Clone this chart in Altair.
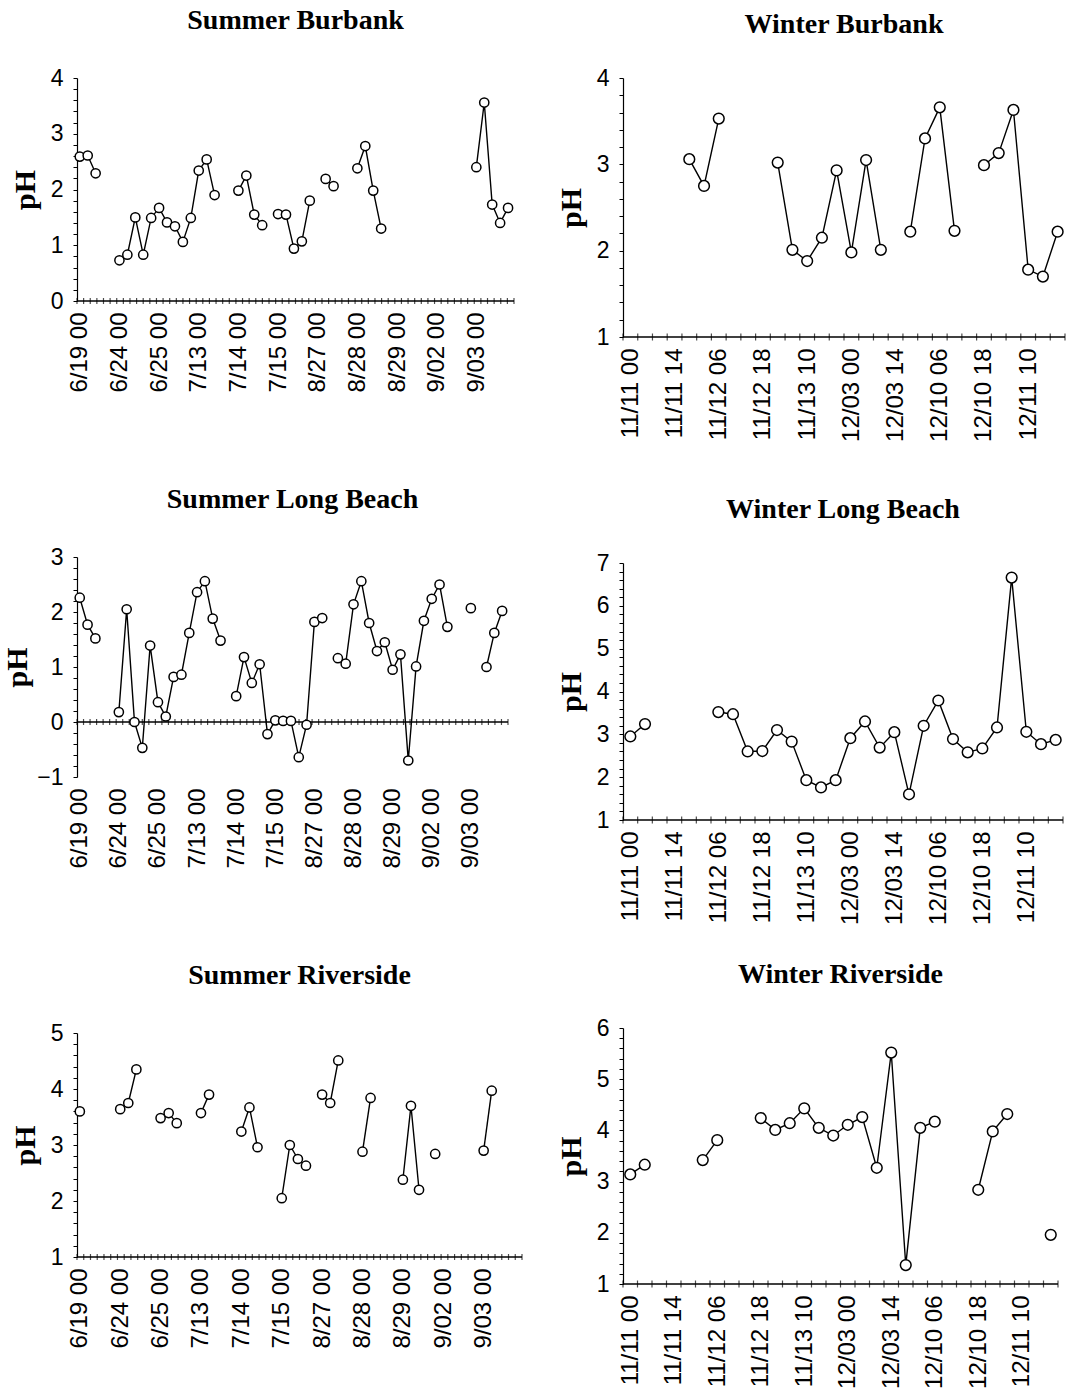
import json
import altair as alt
import pandas as pd
import numpy as np

# ---------------- data ----------------
summer_labels = ["6/19 00", "6/24 00", "6/25 00", "7/13 00", "7/14 00", "7/15 00",
                 "8/27 00", "8/28 00", "8/29 00", "9/02 00", "9/03 00"]
winter_labels = ["11/11 00", "11/11 14", "11/12 06", "11/12 18", "11/13 10",
                 "12/03 00", "12/03 14", "12/10 06", "12/10 18", "12/11 10"]

summer_burbank = [2.59, 2.61, 2.29, None, None,
                  0.73, 0.83, 1.50, 0.83, 1.49, 1.67, 1.41, 1.34, 1.06, 1.49, 2.34, 2.54, 1.90,
                  None, None,
                  1.98, 2.25, 1.55, 1.36, None,
                  1.56, 1.55, 0.94, 1.07, 1.80, None,
                  2.19, 2.06, None, None,
                  2.38, 2.78, 1.98, 1.30,
                  None, None, None, None, None, None, None, None, None, None, None,
                  2.40, 3.56, 1.73, 1.40, 1.67]

summer_longbeach = [2.26, 1.77, 1.52, None, None,
                    0.18, 2.05, 0.00, -0.47, 1.39, 0.36, 0.10, 0.82, 0.86, 1.62, 2.36, 2.56, 1.88, 1.48,
                    None,
                    0.47, 1.18, 0.71, 1.05, -0.22, 0.03, 0.02, 0.02, -0.64, -0.05, 1.82, 1.89,
                    None,
                    1.16, 1.06, 2.14, 2.56, 1.80, 1.29, 1.45, 0.95, 1.23, -0.70, 1.01, 1.84, 2.24, 2.50, 1.73,
                    None, None,
                    2.07, None,
                    1.00, 1.62, 2.02]

summer_riverside = [3.60, None, None, None, None,
                    3.64, 3.75, 4.35, None, None,
                    3.48, 3.57, 3.39, None, None,
                    3.57, 3.90, None, None, None,
                    3.24, 3.67, 2.96, None, None,
                    2.05, 3.00, 2.75, 2.63, None,
                    3.90, 3.75, 4.51, None, None,
                    2.88, 3.84, None, None, None,
                    2.38, 3.70, 2.20, None, 2.84,
                    None, None, None, None, None,
                    2.90, 3.97, None, None, None]

winter_burbank = [None, None, None, None,
                  3.06, 2.75, 3.53, None, None, None,
                  3.02, 2.01, 1.88, 2.15, 2.93, 1.98, 3.05, 2.01, None,
                  2.22, 3.30, 3.66, 2.23, None,
                  2.99, 3.13, 3.63, 1.78, 1.70, 2.22]

winter_longbeach = [2.95, 3.24, None, None, None, None,
                    3.52, 3.47, 2.60, 2.61, 3.10, 2.83, 1.93, 1.76, 1.93, 2.91,
                    3.30, 2.69, 3.05, 1.60, 3.20, 3.79, 2.89, 2.58, 2.67, 3.16,
                    6.66, 3.06, 2.77, 2.87]

winter_riverside = [3.14, 3.33, None, None, None,
                    3.42, 3.81, None, None,
                    4.24, 4.01, 4.14, 4.43, 4.05, 3.90, 4.11, 4.26, 3.27, 5.52, 1.37, 4.05, 4.17,
                    None, None,
                    2.84, 3.98, 4.32, None, None,
                    1.96]

LABEL_FONT = "Liberation Sans"
TITLE_FONT = "Liberation Serif"


def panel(title, vals, labels, lab_step, ydom, base, xdom, tick_pos, w, h,
          psize, x_ext, title_off, tick_len, ytitle_pad=10):
    rows = []
    seg = 0
    prev = None
    for i, v in enumerate(vals):
        if v is None:
            prev = None
            continue
        if prev is None:
            seg += 1
        rows.append({"x": i, "y": v, "seg": seg})
        prev = v
    df = pd.DataFrame(rows)

    lab_vals = [k * lab_step for k in range(len(labels))]
    arr = json.dumps(labels)
    xaxis = alt.Axis(values=lab_vals,
                     labelExpr=f"{arr}[round(datum.value / {lab_step})]",
                     labelAngle=270, domain=False, ticks=False, grid=False,
                     labelFont=LABEL_FONT, labelFontSize=24, labelColor="black",
                     labelPadding=11, labelFlush=False, labelOverlap=False,
                     minExtent=x_ext, maxExtent=x_ext, title=None)
    yvals = [float(v) for v in np.round(np.arange(ydom[0], ydom[1] + 0.001, 0.2), 1)]
    yaxis = alt.Axis(values=yvals,
                     labelExpr="datum.value % 1 == 0 ? format(datum.value, 'd') : ''",
                     title="pH", titleFont=TITLE_FONT, titleFontWeight="bold",
                     titleFontSize=30, titleColor="black", titlePadding=ytitle_pad,
                     labelFont=LABEL_FONT, labelFontSize=23, labelColor="black",
                     labelPadding=10, labelOverlap=False, labelFlush=False,
                     tickSize=4, tickColor="black", tickWidth=1,
                     domainColor="black", domainWidth=1.2, grid=False)
    xs = alt.Scale(domain=xdom, nice=False, zero=False)
    ys = alt.Scale(domain=ydom, nice=False, zero=False)
    X = alt.X("x:Q", scale=xs, axis=xaxis)
    Y = alt.Y("y:Q", scale=ys, axis=yaxis)

    rule = alt.Chart(pd.DataFrame({"y": [base]})).mark_rule(
        color="black", strokeWidth=1.3).encode(y=Y)
    ticks = alt.Chart(pd.DataFrame({"x": tick_pos, "y": [base] * len(tick_pos)})).mark_tick(
        orient="vertical", size=tick_len, thickness=1.2, color="black").encode(x=X, y=Y)
    line = alt.Chart(df).mark_line(color="black", strokeWidth=1.4).encode(
        x=X, y=Y, detail="seg:N")
    pts = alt.Chart(df).mark_point(shape="circle", size=psize, fill="white",
                                   stroke="black", strokeWidth=1.5,
                                   opacity=1, fillOpacity=1).encode(x=X, y=Y)
    return alt.layer(rule, ticks, line, pts).properties(
        width=w, height=h,
        title=alt.TitleParams(title, font=TITLE_FONT, fontWeight="bold", fontSize=28,
                              color="black", anchor="middle", frame="group",
                              offset=title_off))


s_dom = [-0.35, 54.75]
s_ticks = [float(v) for v in np.linspace(s_dom[0], s_dom[1], 67)]
w_dom = [-0.5, 29.5]
w_ticks = [i - 0.5 for i in range(31)]

sb = panel("Summer Burbank", summer_burbank, summer_labels, 5, [0, 4], 0, s_dom, s_ticks,
           437, 223, 85, 100, 32, 6)
slb = panel("Summer Long Beach", summer_longbeach, summer_labels, 5, [-1, 3], 0, s_dom, s_ticks,
            431, 220, 85, 100, 32, 6, ytitle_pad=4)
sr = panel("Summer Riverside", summer_riverside, summer_labels, 5, [1, 5], 1, s_dom, s_ticks,
           445, 224, 85, 100, 32, 6)

wb = panel("Winter Burbank", winter_burbank, winter_labels, 3, [1, 4], 1, w_dom, w_ticks,
           442, 259, 115, 123, 28, 7)
wlb = panel("Winter Long Beach", winter_longbeach, winter_labels, 3, [1, 7], 1, w_dom, w_ticks,
            440, 257, 115, 100, 28, 7)
wr = panel("Winter Riverside", winter_riverside, winter_labels, 3, [1, 6], 1, w_dom, w_ticks,
           435, 256, 115, 100, 28, 7)

left = alt.vconcat(sb, slb, sr, spacing=85)
right = alt.vconcat(wb, wlb, wr, spacing=36)

chart = alt.hconcat(left, right, spacing=33).properties(
    padding={"left": 2, "top": 7, "right": 2, "bottom": 0},
    background="white",
).configure_view(stroke=None)

chart.save("out.html", embed_options={"renderer": "svg", "actions": False})
